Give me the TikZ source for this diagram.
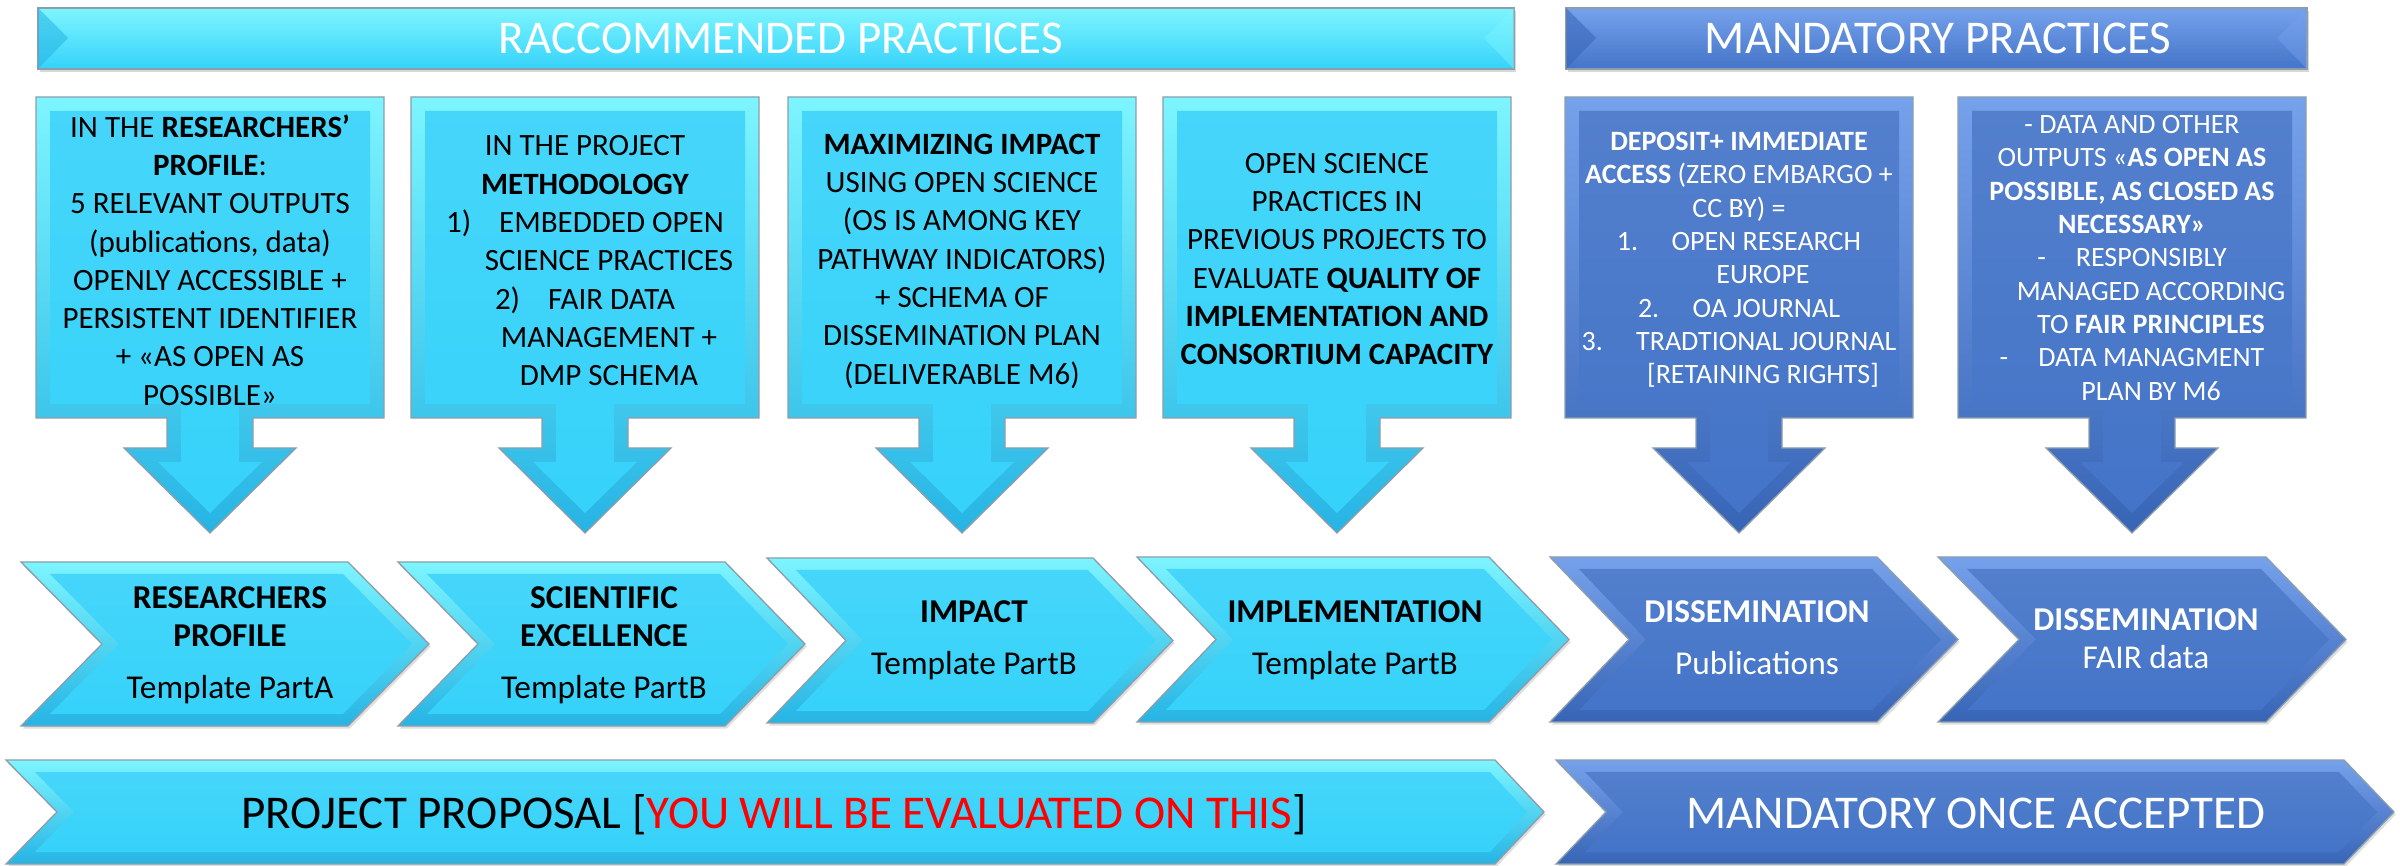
\documentclass[tikz,border=0pt]{standalone}
\usepackage{fontspec}
\setmainfont{Carlito}
\usetikzlibrary{shadows}
\definecolor{cyM}{RGB}{54,210,250}
\definecolor{cyL}{RGB}{125,245,255}
\definecolor{cyD}{RGB}{38,180,228}
\definecolor{blM}{RGB}{68,116,200}
\definecolor{blL}{RGB}{118,162,236}
\definecolor{blD}{RGB}{56,100,182}
\definecolor{edgegray}{RGB}{140,158,172}
\definecolor{evred}{RGB}{255,0,0}
% rectangle banner: L R light main dark
\newcommand{\bannershape}[5]{%
  \path[draw=edgegray, line width=0.4pt, top color=#3, middle color=#4, bottom color=#4,
        drop shadow={opacity=0.3, shadow xshift=0.5pt, shadow yshift=-1pt}] (#1,8) rectangle (#2,69);
  \fill[#5, opacity=0.55] (#1,8) -- (#1+30,38) -- (#1,69) -- cycle;
  \fill[#3, opacity=0.45] (#2,8) -- (#2-30,38) -- (#2,69) -- cycle;
}
% box with down arrow: L R light main dark
\newcommand{\calloutshape}[5]{%
  \pgfmathsetmacro\cc{(#1+#2)/2}
  \path[draw=edgegray, line width=0.4pt, top color=#3, bottom color=#5]
    (#1,97) -- (#2,97) -- (#2,418) -- (\cc+43,418) -- (\cc+43,448) -- (\cc+86,448)
    -- (\cc,533) -- (\cc-86,448) -- (\cc-43,448) -- (\cc-43,418) -- (#1,418) -- cycle;
  \shade[top color=#4!92!white, bottom color=#4]
    (#1+14,111) -- (#2-14,111) -- (#2-14,404) -- (\cc+29,404) -- (\cc+29,462) -- (\cc+52,462)
    -- (\cc,513) -- (\cc-52,462) -- (\cc-29,462) -- (\cc-29,404) -- (#1+14,404) -- cycle;
}
% chevron: L N R Tip T B light main dark
\newcommand{\chevshape}[9]{%
  \pgfmathsetmacro\chm{(#5+#6)/2}
  \path[draw=edgegray, line width=0.4pt, top color=#7, bottom color=#9,
        drop shadow={opacity=0.25, shadow xshift=0.5pt, shadow yshift=-0.8pt}]
    (#1,#5) -- (#3,#5) -- (#4,\chm) -- (#3,#6) -- (#1,#6) -- (#2,\chm) -- cycle;
  \shade[top color=#8!92!white, bottom color=#8]
    (#1+29,#5+12) -- (#3-5,#5+12) -- (#4-17,\chm) -- (#3-5,#6-12) -- (#1+29,#6-12) -- (#2+17,\chm) -- cycle;
}
\begin{document}
\begin{tikzpicture}[x=0.3pt,y=-0.3pt,
  title/.style={font=\fontsize{14.1}{16}\selectfont, inner sep=0pt, anchor=base},
  bxtxt/.style={align=center, font=\fontsize{9.3}{11.5}\selectfont, inner sep=0pt},
  mbtxt/.style={align=center, text=white, font=\fontsize{8.4}{10}\selectfont, inner sep=0pt},
  chtxt/.style={align=center, font=\fontsize{10}{11.4}\selectfont, inner sep=0pt}]
\useasboundingbox[fill=white] (0,0) rectangle (2400,866);

% ---------- top banners ----------
\bannershape{38}{1514}{cyL}{cyM}{cyD}
\bannershape{1566}{2307}{blL}{blM}{blD}
\node[title, text=white] (t1) at (781,54) {RACCOMMENDED PRACTICES};
\node[title, text=white] (t2) at (1938,54) {MANDATORY PRACTICES};

% ---------- callout boxes ----------
\calloutshape{36}{384}{cyL}{cyM}{cyD}
\calloutshape{411}{759}{cyL}{cyM}{cyD}
\calloutshape{788}{1136}{cyL}{cyM}{cyD}
\calloutshape{1163}{1511}{cyL}{cyM}{cyD}
\calloutshape{1565}{1913}{blL}{blM}{blD}
\calloutshape{1958}{2306}{blL}{blM}{blD}

\node[bxtxt] (b1) at (210,260) {IN THE \textbf{RESEARCHERS’}\\ \textbf{PROFILE}:\\ 5 RELEVANT OUTPUTS\\ (publications, data)\\ OPENLY ACCESSIBLE +\\ PERSISTENT IDENTIFIER\\ + «AS OPEN AS\\ POSSIBLE»};
\node[bxtxt] (b2) at (585,261) {IN THE PROJECT\\ \textbf{METHODOLOGY}\\ 1)\hspace{8.4pt}EMBEDDED OPEN\\ \hspace*{14.4pt}SCIENCE PRACTICES\\ 2)\hspace{8.4pt}FAIR DATA\\ \hspace*{14.4pt}MANAGEMENT +\\ \hspace*{14.4pt}DMP SCHEMA};
\node[bxtxt] (b3) at (962,261) {\textbf{MAXIMIZING IMPACT}\\ USING OPEN SCIENCE\\ (OS IS AMONG KEY\\ PATHWAY INDICATORS)\\ + SCHEMA OF\\ DISSEMINATION PLAN\\ (DELIVERABLE M6)};
\node[bxtxt] (b4) at (1337,259) {OPEN SCIENCE\\ PRACTICES IN\\ PREVIOUS PROJECTS TO\\ EVALUATE \textbf{QUALITY OF}\\ \textbf{IMPLEMENTATION AND}\\ \textbf{CONSORTIUM CAPACITY}};
\node[mbtxt] (b5) at (1739,260) {\textbf{DEPOSIT+ IMMEDIATE}\\ \textbf{ACCESS} (ZERO EMBARGO +\\ CC BY) =\\ 1.\hspace{10pt}OPEN RESEARCH\\ \hspace*{14.4pt}EUROPE\\ 2.\hspace{10pt}OA JOURNAL\\ 3.\hspace{10pt}TRADTIONAL JOURNAL\\ \hspace*{14.4pt}[RETAINING RIGHTS]};
\node[mbtxt] (b6) at (2132,258) {- DATA AND OTHER\\ OUTPUTS «\textbf{AS OPEN AS}\\ \textbf{POSSIBLE, AS CLOSED AS}\\ \textbf{NECESSARY»}\\ -\hspace{9pt}RESPONSIBLY\\ \hspace*{11.4pt}MANAGED ACCORDING\\ \hspace*{11.4pt}TO \textbf{FAIR PRINCIPLES}\\ -\hspace{9pt}DATA MANAGMENT\\ \hspace*{11.4pt}PLAN BY M6};

% ---------- chevrons ----------
\chevshape{21}{102}{348}{429}{562}{726}{cyL}{cyM}{cyD}
\chevshape{398}{478}{725}{805}{562}{726}{cyL}{cyM}{cyD}
\chevshape{767}{846}{1093}{1173}{558}{723}{cyL}{cyM}{cyD}
\chevshape{1137}{1216}{1489}{1569}{557}{722}{cyL}{cyM}{cyD}
\chevshape{1550}{1629}{1877}{1958}{557}{722}{blL}{blM}{blD}
\chevshape{1938}{2019}{2266}{2346}{557}{722}{blL}{blM}{blD}

\node[chtxt] (c1) at (230,645) {\textbf{RESEARCHERS}\\ \textbf{PROFILE}\\[4.2pt] Template PartA};
\node[chtxt] (c2) at (604,645) {\textbf{SCIENTIFIC}\\ \textbf{EXCELLENCE}\\[4.2pt] Template PartB};
\node[chtxt] (c3) at (974,640) {\textbf{IMPACT}\\[4.2pt] Template PartB};
\node[chtxt] (c4) at (1355,640) {\textbf{IMPLEMENTATION}\\[4.2pt] Template PartB};
\node[chtxt, text=white] (c5) at (1757,638) {\textbf{DISSEMINATION}\\[4.2pt] Publications};
\node[chtxt, text=white] (c6) at (2146,639) {\textbf{DISSEMINATION}\\ FAIR data};

% ---------- bottom banners ----------
\chevshape{6}{57}{1495}{1544}{760}{864}{cyL}{cyM}{cyD}
\chevshape{1556}{1606}{2344}{2394}{760}{864}{blL}{blM}{blD}
\node[title] (p1) at (774,828) {PROJECT PROPOSAL [\textcolor{evred}{YOU WILL BE EVALUATED ON THIS}]};
\node[title, text=white] (p2) at (1976,828) {MANDATORY ONCE ACCEPTED};
\end{tikzpicture}
\end{document}
